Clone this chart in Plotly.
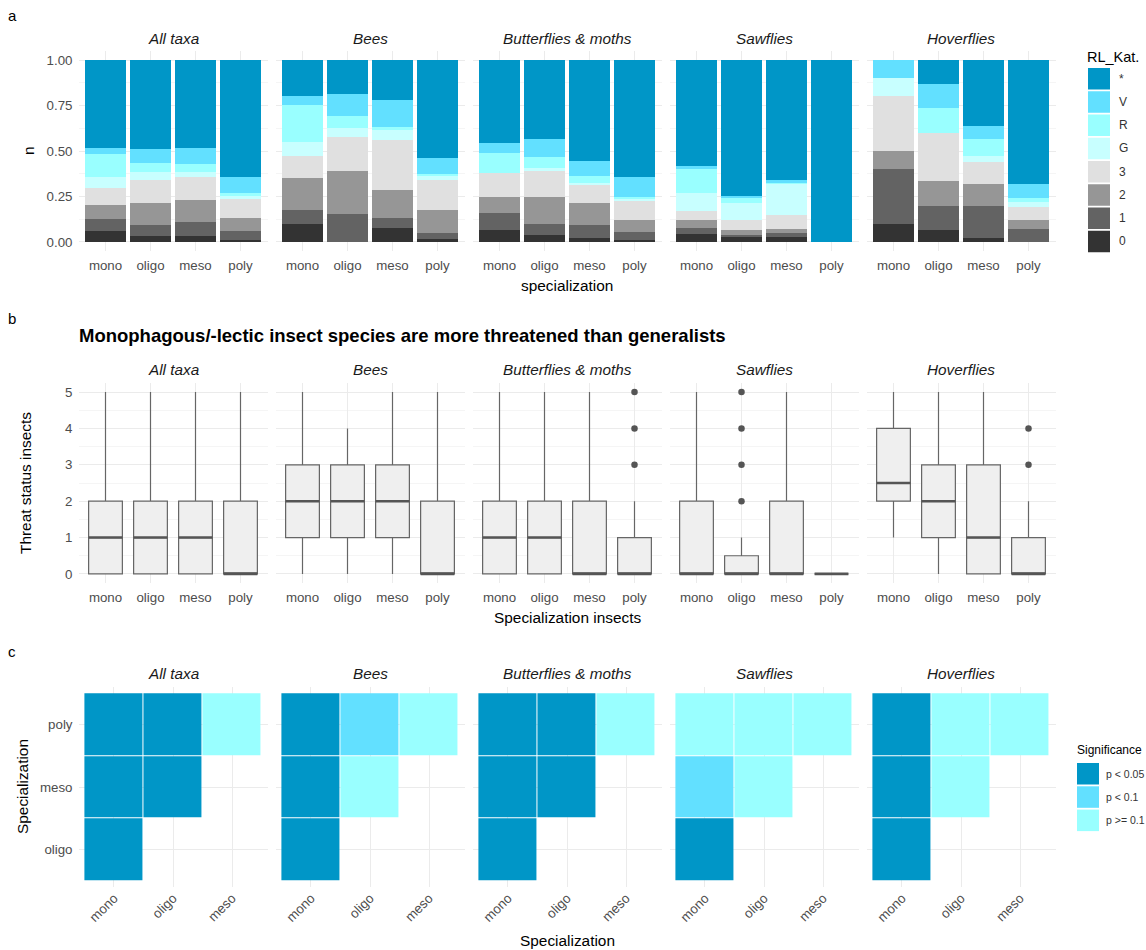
import plotly.graph_objects as go

W, H = 1146, 950
FONT = "Liberation Sans, Arial, sans-serif"

# ---------------- data ----------------
taxa = ["All taxa", "Bees", "Butterflies & moths", "Sawflies", "Hoverflies"]
spec = ["mono", "oligo", "meso", "poly"]

rl_levels = ["0", "1", "2", "3", "G", "R", "V", "*"]
rl_colors = ["#333333", "#636363", "#969696", "#e0e0e0", "#c8ffff", "#99ffff", "#62e0ff", "#0096c7"]

# panel a: share of each red-list category (rows: 0,1,2,3,G,R,V,*; cols: mono, oligo, meso, poly)
prop_all_taxa = [
    [0.058, 0.031, 0.031, 0.013],
    [0.070, 0.060, 0.081, 0.047],
    [0.073, 0.123, 0.120, 0.072],
    [0.093, 0.128, 0.123, 0.104],
    [0.064, 0.040, 0.031, 0.018],
    [0.126, 0.051, 0.040, 0.017],
    [0.035, 0.077, 0.088, 0.085],
    [0.481, 0.490, 0.486, 0.644],
]
prop_bees = [
    [0.099, 0.000, 0.079, 0.016],
    [0.075, 0.154, 0.051, 0.033],
    [0.175, 0.237, 0.157, 0.125],
    [0.126, 0.187, 0.274, 0.168],
    [0.075, 0.049, 0.055, 0.022],
    [0.201, 0.068, 0.018, 0.011],
    [0.050, 0.120, 0.147, 0.086],
    [0.199, 0.185, 0.219, 0.539],
]
prop_butterflies = [
    [0.066, 0.037, 0.022, 0.011],
    [0.092, 0.062, 0.070, 0.044],
    [0.087, 0.150, 0.124, 0.066],
    [0.132, 0.145, 0.097, 0.106],
    [0.000, 0.010, 0.013, 0.008],
    [0.110, 0.065, 0.037, 0.014],
    [0.055, 0.099, 0.084, 0.110],
    [0.458, 0.432, 0.553, 0.641],
]
prop_sawflies = [
    [0.044, 0.026, 0.026, 0.0],
    [0.035, 0.011, 0.022, 0.0],
    [0.042, 0.029, 0.025, 0.0],
    [0.047, 0.055, 0.074, 0.0],
    [0.099, 0.091, 0.172, 0.0],
    [0.132, 0.028, 0.005, 0.0],
    [0.019, 0.013, 0.017, 0.0],
    [0.582, 0.747, 0.659, 1.0],
]
prop_hoverflies = [
    [0.099, 0.064, 0.024, 0.000],
    [0.302, 0.136, 0.172, 0.073],
    [0.099, 0.135, 0.121, 0.046],
    [0.302, 0.266, 0.123, 0.073],
    [0.099, 0.000, 0.034, 0.030],
    [0.000, 0.133, 0.090, 0.022],
    [0.099, 0.134, 0.072, 0.073],
    [0.000, 0.132, 0.364, 0.683],
]
props = [prop_all_taxa, prop_bees, prop_butterflies, prop_sawflies, prop_hoverflies]

# panel b: box statistics of threat status (rows: taxa; cols: mono, oligo, meso, poly)
whisker_lo = [[0, 0, 0, 0], [0, 0, 0, 0], [0, 0, 0, 0], [0, 0, 0, 0], [1, 0, 0, 0]]
box_q1 = [[0, 0, 0, 0], [1, 1, 1, 0], [0, 0, 0, 0], [0, 0, 0, 0], [2, 1, 0, 0]]
box_med = [[1, 1, 1, 0], [2, 2, 2, 0], [1, 1, 0, 0], [0, 0, 0, 0], [2.5, 2, 1, 0]]
box_q3 = [[2, 2, 2, 2], [3, 3, 3, 2], [2, 2, 2, 1], [2, 0.5, 2, 0], [4, 3, 3, 1]]
whisker_hi = [[5, 5, 5, 5], [5, 4, 5, 5], [5, 5, 5, 2], [5, 1, 5, 0], [5, 5, 5, 2]]
outliers = [
    [[], [], [], []],
    [[], [], [], []],
    [[], [], [], [3, 4, 5]],
    [[], [2, 3, 4, 5], [], []],
    [[], [], [], [3, 4]],
]

# panel c: significance of pairwise comparisons (0: p<0.05, 1: p<0.1, 2: p>=0.1)
sig_x = ["mono", "oligo", "meso"]
sig_y = ["oligo", "meso", "poly"]
sig_levels = ["p < 0.05", "p < 0.1", "p >= 0.1"]
sig_colors = ["#0096c7", "#62e0ff", "#99ffff"]
sig_all_taxa = [[0, None, None], [0, 0, None], [0, 0, 2]]
sig_bees = [[0, None, None], [0, 2, None], [0, 1, 2]]
sig_butterflies = [[0, None, None], [0, 0, None], [0, 0, 2]]
sig_sawflies = [[0, None, None], [1, 2, None], [2, 2, 2]]
sig_hoverflies = [[0, None, None], [0, 2, None], [0, 2, 2]]
sigs = [sig_all_taxa, sig_bees, sig_butterflies, sig_sawflies, sig_hoverflies]

# ---------------- layout helpers ----------------
PANEL_L0, PANEL_STEP, PANEL_W = 78.5, 197.0, 189.0
ROWS = {"a": (51, 251), "b": (383, 583), "c": (687, 887)}


def dom_x(i):
    left = PANEL_L0 + PANEL_STEP * i
    return [left / W, (left + PANEL_W) / W]


def dom_y(row):
    top, bottom = ROWS[row]
    return [1 - bottom / H, 1 - top / H]


def px_x(x):
    return x / W


def px_y(y):
    return 1 - y / H


def sid(n):
    return "" if n == 1 else str(n)


tick_font = dict(family=FONT, size=13.3, color="#4d4d4d")
GRID = "#ebebeb"
MINOR = "#f5f5f5"
base_axis = dict(showline=False, zeroline=False, ticks="", showgrid=True, gridcolor=GRID,
                 gridwidth=1.1, tickfont=tick_font, fixedrange=True)

fig = go.Figure()
layout = {}

# ---------------- panel a ----------------
for t in range(5):
    n = 1 + t
    for lev in range(len(rl_levels)):
        fig.add_trace(go.Bar(
            x=spec, y=props[t][lev], name=rl_levels[lev],
            marker=dict(color=rl_colors[lev], line=dict(width=0)),
            xaxis="x" + sid(n), yaxis="y" + sid(n), showlegend=False,
            hoverinfo="skip"))
    layout["xaxis" + sid(n)] = dict(base_axis, domain=dom_x(t), anchor="y" + sid(n),
                                   type="category", categoryorder="array", categoryarray=spec,
                                   range=[-0.6, 3.6], ticklabelstandoff=5)
    layout["yaxis" + sid(n)] = dict(base_axis, domain=dom_y("a"), anchor="x" + sid(n),
                                   range=[-0.05, 1.05], tickvals=[0, 0.25, 0.5, 0.75, 1.0],
                                   ticktext=["0.00", "0.25", "0.50", "0.75", "1.00"],
                                   showticklabels=(t == 0), ticklabelstandoff=5,
                                   minor=dict(tick0=0, dtick=0.125, showgrid=True,
                                              gridcolor=MINOR, gridwidth=0.7))

# ---------------- panel b ----------------
HALF_BOX = 0.375
for t in range(5):
    n = 6 + t
    xa, ya = "x" + sid(n), "y" + sid(n)
    pos = list(range(len(spec)))
    fig.add_trace(go.Box(
        x=pos, q1=box_q1[t], median=box_med[t], q3=box_q3[t],
        lowerfence=whisker_lo[t], upperfence=whisker_hi[t],
        width=2 * HALF_BOX, whiskerwidth=0, boxpoints=False,
        fillcolor="#efefef", line=dict(color="#666666", width=1.2),
        xaxis=xa, yaxis=ya, showlegend=False, hoverinfo="skip"))
    mx, my = [], []
    for i, m in enumerate(box_med[t]):
        mx += [i - HALF_BOX, i + HALF_BOX, None]
        my += [m, m, None]
    fig.add_trace(go.Scatter(x=mx, y=my, mode="lines", line=dict(color="#555555", width=2.6),
                             xaxis=xa, yaxis=ya, showlegend=False, hoverinfo="skip"))
    ox, oy = [], []
    for i, vals in enumerate(outliers[t]):
        for v in vals:
            ox.append(i)
            oy.append(v)
    if ox:
        fig.add_trace(go.Scatter(x=ox, y=oy, mode="markers",
                                 marker=dict(color="#555555", size=6.5),
                                 xaxis=xa, yaxis=ya, showlegend=False, hoverinfo="skip"))
    layout["xaxis" + sid(n)] = dict(base_axis, domain=dom_x(t), anchor=ya,
                                   range=[-0.6, 3.6], tickvals=pos, ticktext=spec,
                                   ticklabelstandoff=5)
    layout["yaxis" + sid(n)] = dict(base_axis, domain=dom_y("b"), anchor=xa,
                                   range=[-0.25, 5.25], tickvals=[0, 1, 2, 3, 4, 5],
                                   showticklabels=(t == 0), ticklabelstandoff=5,
                                   minor=dict(tick0=0, dtick=0.5, showgrid=True,
                                              gridcolor=MINOR, gridwidth=0.7))

# ---------------- panel c ----------------
cs = []
for k, c in enumerate(sig_colors):
    cs += [[k / 3, c], [(k + 1) / 3, c]]
for t in range(5):
    n = 11 + t
    xa, ya = "x" + sid(n), "y" + sid(n)
    fig.add_trace(go.Heatmap(
        x=sig_x, y=sig_y, z=sigs[t], zmin=-0.5, zmax=2.5, colorscale=cs,
        showscale=False, xgap=1, ygap=1, xaxis=xa, yaxis=ya, hoverinfo="skip"))
    layout["xaxis" + sid(n)] = dict(base_axis, domain=dom_x(t), anchor=ya,
                                   type="category", categoryorder="array", categoryarray=sig_x,
                                   range=[-0.6, 2.6], tickangle=-45, ticklabelstandoff=0)
    layout["yaxis" + sid(n)] = dict(base_axis, domain=dom_y("c"), anchor=xa,
                                   type="category", categoryorder="array", categoryarray=sig_y,
                                   range=[-0.6, 2.6], showticklabels=(t == 0),
                                   ticklabelstandoff=5)

# ---------------- annotations ----------------
ann = []
strip_font = dict(family=FONT, size=15.3, color="#1a1a1a", style="italic")
title_font = dict(family=FONT, size=15.4, color="#000000")
for t in range(5):
    cx = sum(dom_x(t)) / 2
    for sy in (38, 369, 673):
        ann.append(dict(text=taxa[t], x=cx, y=px_y(sy), xref="paper", yref="paper",
                        showarrow=False, font=strip_font, xanchor="center", yanchor="middle"))

for letter, ly in (("a", 15), ("b", 318), ("c", 651)):
    ann.append(dict(text=letter, x=px_x(12), y=px_y(ly), xref="paper", yref="paper",
                    showarrow=False, font=dict(family=FONT, size=15, color="#000000"),
                    xanchor="center", yanchor="middle"))

plot_cx = (dom_x(0)[0] + dom_x(4)[1]) / 2
ann += [
    dict(text="specialization", x=plot_cx, y=px_y(285), xref="paper", yref="paper",
         showarrow=False, font=title_font, xanchor="center", yanchor="middle"),
    dict(text="n", x=px_x(29), y=px_y(151), xref="paper", yref="paper", textangle=-90,
         showarrow=False, font=title_font, xanchor="center", yanchor="middle"),
    dict(text="<b>Monophagous/-lectic insect species are more threatened than generalists</b>",
         x=px_x(77), y=px_y(335), xref="paper", yref="paper", showarrow=False,
         font=dict(family=FONT, size=18.5, color="#000000"), xanchor="left", yanchor="middle"),
    dict(text="Specialization insects", x=plot_cx, y=px_y(617), xref="paper", yref="paper",
         showarrow=False, font=title_font, xanchor="center", yanchor="middle"),
    dict(text="Threat status insects", x=px_x(25), y=px_y(483), xref="paper", yref="paper",
         textangle=-90, showarrow=False, font=title_font, xanchor="center", yanchor="middle"),
    dict(text="Specialization", x=plot_cx, y=px_y(940), xref="paper", yref="paper",
         showarrow=False, font=title_font, xanchor="center", yanchor="middle"),
    dict(text="Specialization", x=px_x(22), y=px_y(787), xref="paper", yref="paper",
         textangle=-90, showarrow=False, font=title_font, xanchor="center", yanchor="middle"),
]

# ---------------- manual legends ----------------
shapes = []
# legend a (top-down: *, V, R, G, 3, 2, 1, 0)
ann.append(dict(text="RL_Kat.", x=px_x(1085), y=px_y(57), xref="paper", yref="paper",
                showarrow=False, font=dict(family=FONT, size=14.5, color="#000000"),
                xanchor="left", yanchor="middle"))
LA_TOP, LA_STEP, LA_H = 68.0, 23.25, 21.5
for k, lev in enumerate(reversed(range(len(rl_levels)))):
    top = LA_TOP + k * LA_STEP
    shapes.append(dict(type="rect", xref="paper", yref="paper",
                       x0=px_x(1088), x1=px_x(1110), y0=px_y(top + LA_H), y1=px_y(top),
                       fillcolor=rl_colors[lev], line=dict(width=0)))
    ann.append(dict(text=rl_levels[lev], x=px_x(1117), y=px_y(top + LA_H / 2),
                    xref="paper", yref="paper", showarrow=False,
                    font=dict(family=FONT, size=12, color="#333333"),
                    xanchor="left", yanchor="middle"))
# legend c
ann.append(dict(text="Significance", x=px_x(1075), y=px_y(750), xref="paper", yref="paper",
                showarrow=False, font=dict(family=FONT, size=12, color="#000000"),
                xanchor="left", yanchor="middle"))
LC_TOP, LC_STEP, LC_H = 763.0, 23.3, 21.5
for k, lab in enumerate(sig_levels):
    top = LC_TOP + k * LC_STEP
    shapes.append(dict(type="rect", xref="paper", yref="paper",
                       x0=px_x(1077), x1=px_x(1099), y0=px_y(top + LC_H), y1=px_y(top),
                       fillcolor=sig_colors[k], line=dict(width=0)))
    ann.append(dict(text=lab, x=px_x(1104), y=px_y(top + LC_H / 2),
                    xref="paper", yref="paper", showarrow=False,
                    font=dict(family=FONT, size=10.5, color="#333333"),
                    xanchor="left", yanchor="middle"))

fig.update_layout(
    width=W, height=H, margin=dict(l=0, r=0, t=0, b=0),
    paper_bgcolor="white", plot_bgcolor="white",
    barmode="stack", bargap=0.1, showlegend=False,
    annotations=ann, shapes=shapes,
    font=dict(family=FONT, color="#000000"),
    **layout,
)

fig.write_html("out.html", config={"displayModeBar": False},
               post_script="document.body.style.margin='0';document.body.style.overflow='hidden';")
